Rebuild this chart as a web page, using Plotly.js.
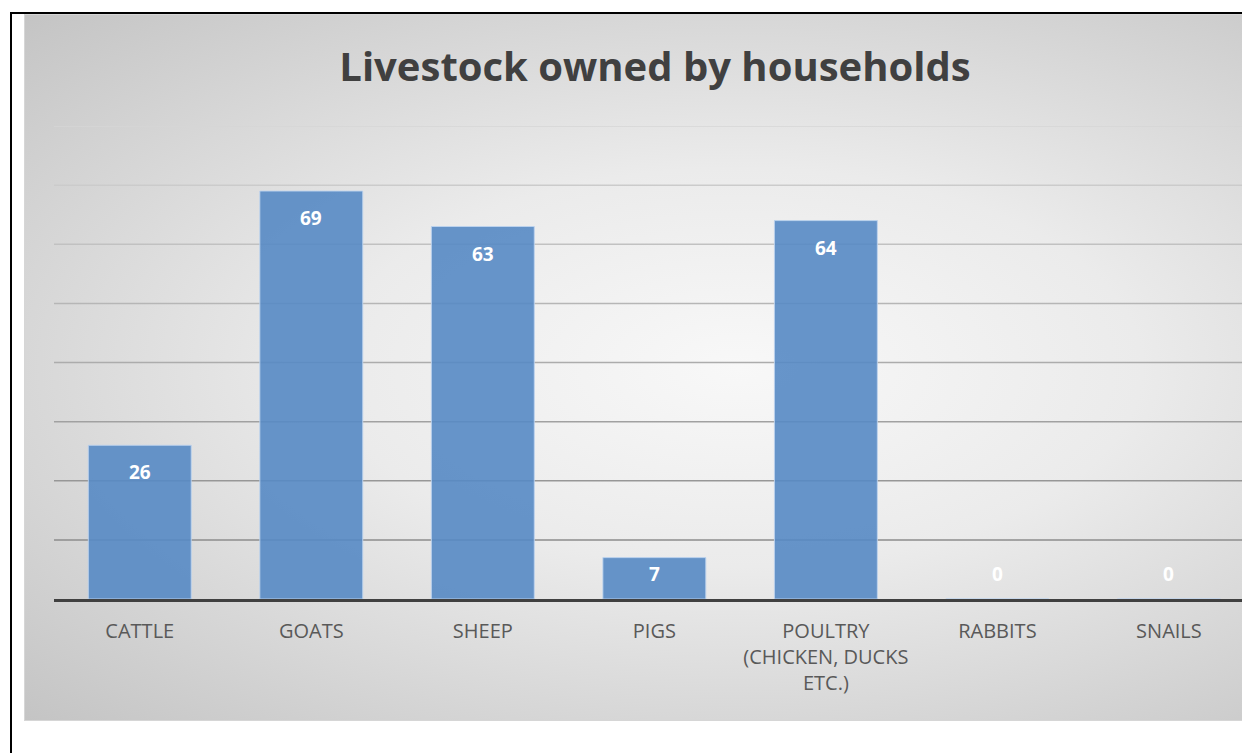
<!DOCTYPE html>
<html>
<head>
<meta charset="utf-8">
<script src="https://cdn.plot.ly/plotly-3.0.1.min.js"></script>
<style>
  html, body { margin: 0; padding: 0; background: #ffffff; width: 1242px; height: 753px; overflow: hidden; }
  #pageborder { position: absolute; left: 10px; top: 12px; width: 1240px; height: 760px;
    border-left: 2px solid #000; border-top: 2px solid #000; }
  #chartbox { position: absolute; left: 24px; top: 14px; width: 1230px; height: 705px;
    border: 1px solid #d6d6d6;
    background: radial-gradient(ellipse farthest-corner at 58% 50%, #f8f8f8 0%, #ebebeb 40%, #c4c4c4 100%); }
  #chart { position: absolute; left: 0; top: 0; width: 1242px; height: 753px; }
</style>
</head>
<body>
<div id="pageborder"></div>
<div id="chartbox"></div>
<div id="chart"></div>
<script>
const categories = ['CATTLE', 'GOATS', 'SHEEP', 'PIGS', 'POULTRY<br>(CHICKEN, DUCKS<br>ETC.)', 'RABBITS', 'SNAILS'];
const households = [26, 69, 63, 7, 64, 0, 0];
const gridValues = [10, 20, 30, 40, 50, 60, 70, 80];
const chartTitle = 'Livestock owned by households';

const W = 1242, H = 753;
const margin = { l: 54, r: 0, t: 126, b: 154, pad: 0 };
const yMax = 80;
const pxPerUnit = (H - margin.t - margin.b) / yMax;

const trace = {
  type: 'bar',
  x: categories,
  y: households,
  marker: { color: 'rgba(87,138,196,0.9)', line: { color: 'rgba(190,212,238,0.9)', width: 1 } },
  hoverinfo: 'x+y'
};

function gridColor(i, n) {
  const t = n > 1 ? i / (n - 1) : 0;
  const c = Math.round(0x8c + t * (0xd6 - 0x8c));
  return 'rgb(' + c + ',' + c + ',' + c + ')';
}

const shapes = gridValues.map((v, i) => ({
  type: 'line', xref: 'paper', yref: 'y', x0: 0, x1: 1, y0: v, y1: v,
  layer: 'below', line: { color: gridColor(i, gridValues.length), width: 1.5 }
}));

// Inside-end labels: 27px below the bar top, but never lower than 25px above the baseline
const annotations = categories.map((c, i) => {
  const h = households[i] * pxPerUnit;
  const shift = h - 27 >= 25 ? -27 : 25 - h;
  return {
    x: c, y: households[i], xref: 'x', yref: 'y',
    text: String(households[i]), showarrow: false,
    yanchor: 'middle', yshift: shift,
    font: { family: 'Open Sans, sans-serif', size: 19, color: '#ffffff', weight: 700 }
  };
});

const layout = {
  width: W, height: H,
  margin: margin,
  paper_bgcolor: 'rgba(0,0,0,0)',
  plot_bgcolor: 'rgba(0,0,0,0)',
  showlegend: false,
  bargap: 0.4,
  title: {
    text: chartTitle,
    xref: 'container', yref: 'container',
    x: 655 / W, xanchor: 'center',
    y: 1 - 67 / H, yanchor: 'middle',
    font: { family: 'Open Sans, sans-serif', size: 40, color: '#404040', weight: 700 }
  },
  xaxis: {
    type: 'category',
    range: [-0.5, 6.426],
    showgrid: false, zeroline: false,
    showline: true, linecolor: '#404040', linewidth: 3,
    ticks: '', ticklabelstandoff: 12,
    tickfont: { family: 'Open Sans, sans-serif', size: 20, color: '#595959' },
    fixedrange: true
  },
  yaxis: {
    range: [0, yMax],
    showgrid: false, zeroline: false, showline: false,
    showticklabels: false, ticks: '',
    fixedrange: true
  },
  shapes: shapes,
  annotations: annotations
};

Plotly.newPlot('chart', [trace], layout, { displayModeBar: false, staticPlot: true });
</script>
</body>
</html>
